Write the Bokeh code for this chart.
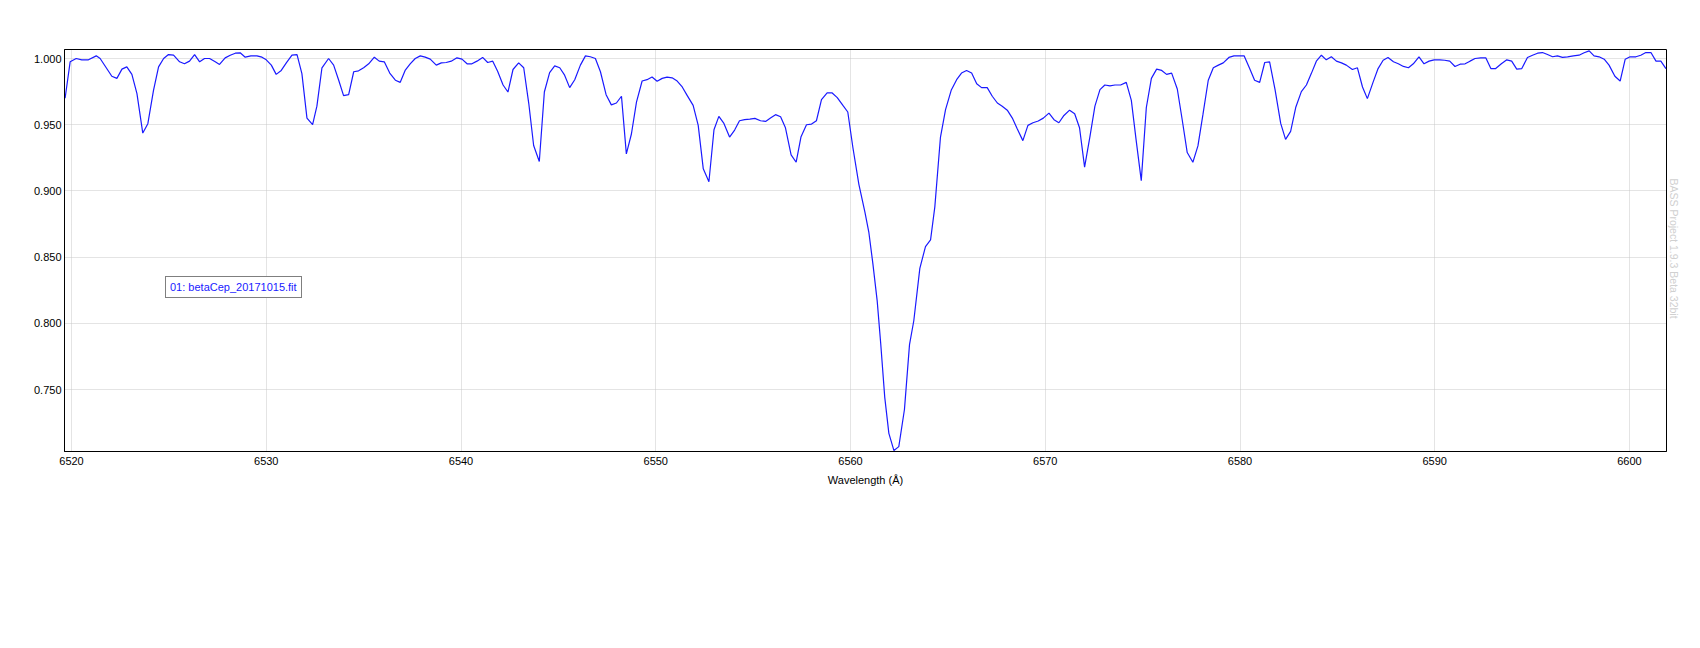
import math
from bokeh.plotting import figure
from bokeh.models import (FixedTicker, NumeralTickFormatter, Range1d, Legend,
                          LegendItem, Title)
from bokeh.embed import file_html
from bokeh.resources import INLINE

# ---- data ----
wavelength = [
    6519.67, 6519.93, 6520.24, 6520.53, 6520.87, 6521.27, 6521.47, 6522.07, 6522.33, 6522.59,
    6522.84, 6523.10, 6523.36, 6523.66, 6523.92, 6524.21, 6524.47, 6524.73, 6524.98, 6525.24,
    6525.55, 6525.80, 6526.06, 6526.32, 6526.58, 6526.83, 6527.09, 6527.38, 6527.60, 6527.89,
    6528.15, 6528.41, 6528.66, 6528.92, 6529.21, 6529.52, 6529.78, 6530.00, 6530.26, 6530.51,
    6530.77, 6531.03, 6531.32, 6531.58, 6531.83, 6532.09, 6532.38, 6532.60, 6532.86, 6533.20,
    6533.46, 6533.72, 6533.97, 6534.23, 6534.49, 6534.74, 6535.00, 6535.26, 6535.55, 6535.80,
    6536.06, 6536.34, 6536.63, 6536.88,
    6537.13, 6537.39, 6537.65, 6537.91, 6538.16, 6538.42, 6538.73, 6538.99, 6539.24, 6539.50,
    6539.79, 6540.05, 6540.31, 6540.56, 6540.82, 6541.11, 6541.37, 6541.63, 6541.88, 6542.16,
    6542.41, 6542.67, 6542.96, 6543.22, 6543.48, 6543.73, 6544.02, 6544.28, 6544.55, 6544.81,
    6545.07, 6545.32, 6545.58, 6545.84, 6546.13, 6546.39, 6546.64, 6546.90, 6547.16, 6547.45,
    6547.72, 6547.98, 6548.24, 6548.49, 6548.75, 6549.01, 6549.30, 6549.55, 6549.81, 6550.07,
    6550.33, 6550.58, 6550.84, 6551.10, 6551.36, 6551.61, 6551.92, 6552.18, 6552.44, 6552.73,
    6552.99, 6553.24, 6553.50, 6553.79, 6554.05, 6554.30, 6554.56, 6554.83, 6555.09, 6555.38,
    6555.64, 6555.89, 6556.15, 6556.41,
    6556.66, 6556.95, 6557.21, 6557.46, 6557.74, 6558.00, 6558.25, 6558.51, 6558.80, 6559.06,
    6559.32, 6559.61, 6559.86,
    6560.12, 6560.43, 6560.74, 6560.94, 6561.15, 6561.37, 6561.55, 6561.76, 6561.97, 6562.23,
    6562.48, 6562.77, 6563.03, 6563.25, 6563.56, 6563.85, 6564.11, 6564.33, 6564.62,
    6564.88, 6565.17, 6565.45, 6565.70, 6565.96, 6566.22, 6566.48, 6566.73, 6567.02, 6567.28,
    6567.54, 6567.79, 6568.05, 6568.31, 6568.56, 6568.85, 6569.11, 6569.37, 6569.64, 6569.90,
    6570.19, 6570.45, 6570.70, 6570.96, 6571.25, 6571.51, 6571.76, 6572.02, 6572.29, 6572.55,
    6572.81, 6573.06, 6573.32, 6573.58, 6573.87, 6574.16, 6574.42, 6574.67, 6574.93,
    6575.19, 6575.45, 6575.72, 6575.98, 6576.23, 6576.49, 6576.78, 6577.04, 6577.29, 6577.58,
    6577.84, 6578.10, 6578.37, 6578.63, 6578.89, 6579.14, 6579.43, 6579.69, 6579.95, 6580.21,
    6580.48, 6580.75, 6581.01, 6581.27, 6581.52, 6581.80, 6582.09, 6582.34, 6582.60, 6582.86,
    6583.15, 6583.41, 6583.66, 6583.92, 6584.18, 6584.43, 6584.69, 6584.95, 6585.21, 6585.46,
    6585.77, 6586.03, 6586.29, 6586.54, 6586.83, 6587.09, 6587.35, 6587.60, 6587.88, 6588.13,
    6588.39, 6588.65, 6588.90, 6589.19, 6589.45, 6589.71, 6589.97, 6590.26, 6590.51, 6590.77,
    6591.04, 6591.30, 6591.56, 6591.81, 6592.07, 6592.36, 6592.62, 6592.88, 6593.13, 6593.42,
    6593.70, 6593.95, 6594.21,
    6594.47, 6594.76, 6595.02, 6595.28, 6595.53, 6595.79, 6596.05, 6596.30, 6596.56, 6596.82,
    6597.12, 6597.41, 6597.67, 6597.93, 6598.18, 6598.44, 6598.70, 6598.95, 6599.25, 6599.52,
    6599.78, 6600.03, 6600.33, 6600.58, 6600.84, 6601.10, 6601.36, 6601.61, 6601.87,
]

flux = [
    0.970, 0.9975, 1.000, 0.999, 0.999, 1.002, 1.000, 0.9866, 0.985, 0.992,
    0.9937, 0.988, 0.9735, 0.9437, 0.9508, 0.976, 0.9937, 1.000, 1.003, 1.0025,
    0.9975, 0.996, 0.998, 1.003, 0.9975, 1.000, 1.000, 0.9975, 0.9955, 1.0005,
    1.0025, 1.004, 1.0043, 1.001, 1.002, 1.002, 1.001, 0.999, 0.995, 0.988,
    0.991, 0.9967, 1.0025, 1.003, 0.9886, 0.955, 0.950, 0.964, 0.993, 1.000,
    0.995, 0.9836, 0.972, 0.9727, 0.990, 0.9907, 0.993, 0.996, 1.001, 0.998,
    0.9975, 0.989, 0.9836, 0.982,
    0.991, 0.996, 1.000, 1.002, 1.001, 0.9995, 0.995, 0.9967, 0.997, 0.998,
    1.0005, 0.9995, 0.996, 0.996, 0.998, 1.0008, 0.997, 0.998, 0.9904, 0.980,
    0.9747, 0.9917, 0.9967, 0.993, 0.966, 0.9343, 0.9222, 0.9747, 0.9894, 0.9944,
    0.993, 0.9874, 0.978, 0.984, 0.995, 1.002, 1.0013, 1.000, 0.990, 0.9727,
    0.965, 0.9664, 0.9715, 0.928, 0.943, 0.967, 0.983, 0.984, 0.986, 0.9828,
    0.985, 0.986, 0.9854, 0.983, 0.9785, 0.9722, 0.9646, 0.9495, 0.9167, 0.907,
    0.9462, 0.9563, 0.951, 0.9407, 0.946, 0.953, 0.9538, 0.9543, 0.9548, 0.953,
    0.9525, 0.955, 0.9576, 0.956,
    0.9477, 0.9273, 0.9217, 0.941, 0.950, 0.9505, 0.953, 0.969, 0.974, 0.974,
    0.9705, 0.9646, 0.9596,
    0.933, 0.905, 0.884, 0.869, 0.845, 0.817, 0.785, 0.744, 0.717, 0.704,
    0.707, 0.735, 0.784, 0.802, 0.8416, 0.858, 0.863, 0.888, 0.9407,
    0.9614, 0.976, 0.984, 0.989, 0.991, 0.989, 0.981, 0.978, 0.978, 0.9715,
    0.9664, 0.964, 0.961, 0.955, 0.947, 0.938, 0.9495, 0.9515, 0.9528, 0.955,
    0.9588, 0.9538, 0.9515, 0.957, 0.961, 0.9583, 0.9477, 0.918, 0.9407, 0.964,
    0.9765, 0.980, 0.9793, 0.980, 0.980, 0.982, 0.9684, 0.938, 0.9078,
    0.963, 0.985, 0.992, 0.991, 0.988, 0.989, 0.977, 0.953, 0.929, 0.9217,
    0.934, 0.958, 0.9836, 0.993, 0.995, 0.9967, 1.0008, 1.002, 1.002, 1.002,
    0.993, 0.9836, 0.982, 0.997, 0.9975, 0.9765, 0.951, 0.939, 0.945, 0.963,
    0.975, 0.980, 0.9886, 0.998, 1.0025, 0.999, 1.0013, 0.998, 0.9967, 0.995,
    0.9917, 0.993, 0.9785, 0.9697, 0.982, 0.9924, 0.9987, 1.0008, 0.9975, 0.996,
    0.994, 0.993, 0.996, 1.0013, 0.996, 0.998, 0.999, 0.999, 0.9987, 0.998,
    0.994, 0.9957, 0.996, 0.998, 1.000, 1.0005, 1.0005, 0.9924, 0.9924, 0.996,
    0.999, 0.998, 0.992,
    0.9924, 1.0008, 1.0025, 1.004, 1.0045, 1.003, 1.0013, 1.002, 1.0008, 1.0013,
    1.002, 1.0025, 1.0043, 1.0058, 1.002, 1.0013, 0.9995, 0.995, 0.9866, 0.983,
    0.9995, 1.0013, 1.0013, 1.0025, 1.0045, 1.0045, 0.998, 0.998, 0.9924,
]

x_ticks = [6520, 6530, 6540, 6550, 6560, 6570, 6580, 6590, 6600]
y_ticks = [0.75, 0.80, 0.85, 0.90, 0.95, 1.00]
series_name = "01: betaCep_20171015.fit"
x_title = "Wavelength (Å)"
watermark = "BASS Project 1.9.3 Beta 32bit"

FONT = "Liberation Sans"

p = figure(width=1682, height=508, output_backend="svg", toolbar_location=None,
           x_range=Range1d(6519.64, 6601.9), y_range=Range1d(0.7033, 1.0068),
           min_border_left=64, min_border_right=8, min_border_top=49,
           min_border_bottom=57)
p.background_fill_color = "white"
p.border_fill_color = "white"
p.outline_line_color = "black"
p.outline_line_width = 1

line = p.line(wavelength, flux, line_color="#1a1aff", line_width=1.2)

for ax in (p.xaxis[0], p.yaxis[0]):
    ax.major_tick_line_color = None
    ax.minor_tick_line_color = None
    ax.major_tick_out = 0
    ax.major_tick_in = 0
    ax.axis_line_color = "black"
    ax.major_label_text_font = FONT
    ax.major_label_text_font_size = "11px"
    ax.major_label_text_color = "#000000"

p.xaxis.ticker = FixedTicker(ticks=x_ticks)
p.yaxis.ticker = FixedTicker(ticks=y_ticks)
p.yaxis.formatter = NumeralTickFormatter(format="0.000")
p.xaxis.major_label_standoff = 5
p.yaxis.major_label_standoff = 3
p.xaxis.axis_label = x_title
p.xaxis.axis_label_text_font = FONT
p.xaxis.axis_label_text_font_size = "11px"
p.xaxis.axis_label_text_font_style = "normal"
p.xaxis.axis_label_text_color = "#000000"
p.xaxis.axis_label_standoff = 6

for g in (p.xgrid[0], p.ygrid[0]):
    g.grid_line_color = "#c8c8c8"
    g.grid_line_dash = "1 1"
    g.grid_line_width = 1

legend = Legend(items=[LegendItem(label=series_name, renderers=[line])],
                location=(101, 153), margin=0, padding=4, spacing=0,
                glyph_width=0, glyph_height=12, label_height=12, label_width=127,
                label_standoff=0,
                border_line_color="black", border_line_width=1,
                background_fill_color="white", background_fill_alpha=1.0,
                label_text_font=FONT, label_text_font_size="11px",
                label_text_color="#1a1aff")
p.add_layout(legend)

wm = Title(text=watermark, align="left", offset=129, standoff=2,
           text_color="#d0d0d0", text_font=FONT, text_font_size="10.5px",
           text_font_style="normal")
p.add_layout(wm, "right")

open("out.html", "w").write(file_html(p, INLINE))
